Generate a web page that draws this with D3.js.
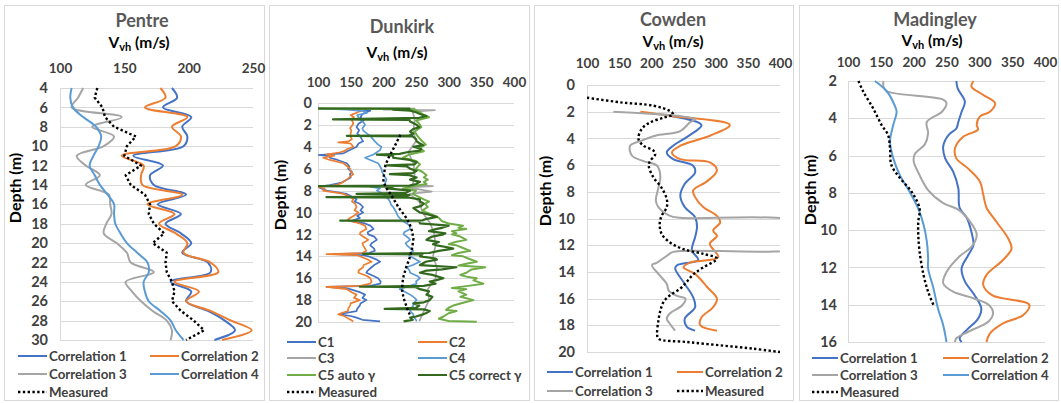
<!DOCTYPE html>
<html>
<head>
<meta charset="utf-8">
<script src="https://cdn.jsdelivr.net/npm/d3@7"></script>
<style>
  body { margin: 0; background: #fff; }
  text { font-family: Lato, "Open Sans", sans-serif; font-weight: bold; }
</style>
</head>
<body>
<svg id="chart" width="1061" height="403"></svg>
<script>
// ---------- data ----------
// Pentre
const pentreDepth = [4,5,6,7,8,9,10,11,12,13,14,15,16,17,18,19,20,21,22,23,24,25,26,27,28,29,30];
const pentreC1 = [187,191,180,202,195,199,196,157,180,170,173,198,176,194,182,194,202,195,215,217,186,202,198,215,228,236,220];
const pentreC2 = [178,182,166,199,187,194,190,148,165,163,164,195,168,189,177,190,199,196,217,223,189,208,198,217,233,249,226];
const pentreC3 = [118,114,109,148,125,142,134,113,120,131,120,138,139,140,136,134,144,152,155,173,151,156,163,172,183,187,186];
const pentreC4 = [109,108,110,118,128,132,130,126,123,127,131,137,142,142,143,147,152,160,168,169,165,166,169,178,186,190,196];
const pentreMeas = [129,127,133,135,142,159,152,150,163,151,155,166,170,169,173,181,172,183,182,183,187,189,187,194,204,212,198];
const pentreXTicks = [100,150,200,250];
const pentreYTicks = [4,6,8,10,12,14,16,18,20,22,24,26,28,30];

// Dunkirk  [depth, Vvh]
const dunkirkC1 = [[0.5,100],[0.55,154],[0.7,180],[0.85,174],[1.0,168],[1.3,165],[1.6,170],[1.9,162],[2.2,159],[2.5,163],[2.8,160],[3.0,164],[3.3,167],[3.5,169],[3.7,162],[4.0,159],[4.2,152],[4.4,145],[4.6,139],[4.75,100],[4.85,118],[5.0,118],[5.2,130],[5.5,144],[5.8,148],[6.0,146],[6.3,152],[6.5,149],[6.8,150],[7.0,144],[7.3,135],[7.5,118],[7.65,100],[7.8,105],[8.0,113],[8.3,144],[8.5,150],[8.8,159],[9.0,156],[9.2,164],[9.5,169],[9.8,165],[10.0,169],[10.3,160],[10.5,164],[10.7,155],[10.8,150],[11.0,172],[11.2,180],[11.5,185],[11.8,176],[12.0,177],[12.2,186],[12.5,190],[12.8,182],[13.0,180],[13.3,186],[13.5,187],[13.7,178],[13.8,125],[13.9,170],[14.0,177],[14.3,190],[14.5,195],[14.8,186],[15.0,182],[15.3,176],[15.5,174],[15.8,185],[16.0,192],[16.3,196],[16.5,195],[16.7,180],[16.8,113],[16.9,140],[17.0,149],[17.3,165],[17.5,172],[17.8,168],[18.0,174],[18.3,165],[18.5,164],[18.8,160],[19.0,159],[19.2,140],[19.3,134],[19.45,150],[19.6,159],[19.8,168],[19.95,195]];
const dunkirkC2 = [[0.5,100],[0.55,164],[0.7,166],[0.9,159],[1.1,150],[1.3,155],[1.5,151],[1.8,154],[2.0,153],[2.3,149],[2.5,151],[2.8,150],[3.0,149],[3.3,152],[3.5,147],[3.6,131],[3.7,150],[4.0,154],[4.2,145],[4.4,140],[4.5,134],[4.7,113],[4.8,125],[5.0,108],[5.2,118],[5.5,139],[5.8,145],[6.0,149],[6.3,150],[6.5,154],[6.8,148],[7.0,144],[7.3,136],[7.5,128],[7.65,100],[7.8,110],[8.0,108],[8.2,130],[8.3,139],[8.6,150],[8.8,154],[9.0,152],[9.2,157],[9.5,159],[9.8,156],[10.0,162],[10.3,155],[10.5,149],[10.7,145],[11.0,164],[11.2,172],[11.5,174],[11.8,165],[12.0,164],[12.3,172],[12.5,177],[12.8,168],[13.0,169],[13.3,172],[13.5,174],[13.7,168],[13.8,113],[13.9,160],[14.0,164],[14.3,176],[14.5,182],[14.8,170],[15.0,169],[15.3,162],[15.5,162],[15.8,175],[16.0,180],[16.3,182],[16.5,180],[16.7,165],[16.8,113],[16.9,130],[17.0,144],[17.3,152],[17.5,159],[17.8,155],[18.0,164],[18.3,150],[18.5,149],[18.8,146],[19.0,146],[19.2,135],[19.3,131],[19.45,140],[19.6,144],[19.8,150],[19.95,154]];
const dunkirkC3 = [[0.5,100],[0.52,248],[0.6,200],[0.65,279],[0.8,245],[1.5,248],[2.5,246],[3.5,250],[4.5,238],[5.5,246],[6.5,248],[7.5,245],[7.6,276],[7.7,238],[8.1,274],[8.3,240],[9.0,255],[10.0,260],[11.0,272],[12.0,278],[13.0,280],[14.0,276],[15.0,282],[16.0,280],[17.0,268],[18.0,270],[19.0,262],[19.95,255]];
const dunkirkC4 = [[0.5,100],[0.6,144],[0.75,170],[0.9,175],[1.1,160],[1.3,162],[1.5,164],[1.8,170],[2.0,172],[2.3,168],[2.5,169],[2.8,175],[3.0,180],[3.3,184],[3.5,187],[3.8,192],[4.0,197],[4.3,195],[4.5,190],[4.7,185],[5.0,172],[5.2,180],[5.5,192],[5.8,195],[6.0,197],[6.3,198],[6.5,200],[6.8,203],[7.0,205],[7.3,203],[7.5,203],[7.65,180],[7.8,195],[8.0,190],[8.3,200],[8.5,203],[8.8,208],[9.0,210],[9.3,212],[9.5,215],[9.8,218],[10.0,220],[10.3,222],[10.5,225],[10.7,228],[11.0,236],[11.2,240],[11.5,241],[11.8,232],[12.0,231],[12.3,238],[12.5,241],[12.8,234],[13.0,236],[13.3,242],[13.5,246],[13.8,238],[14.0,241],[14.3,250],[14.5,256],[14.8,245],[15.0,236],[15.3,240],[15.5,241],[15.8,252],[16.0,256],[16.3,250],[16.5,251],[16.8,235],[17.0,225],[17.3,235],[17.5,241],[17.8,248],[18.0,251],[18.3,246],[18.5,246],[18.8,242],[19.0,241],[19.3,246],[19.5,246],[19.8,250],[19.95,251]];
const dunkirkC5auto = [[0.5,100],[0.55,245],[0.8,255],[1.1,262],[1.3,270],[1.6,250],[1.9,255],[2.2,258],[2.6,248],[3.0,252],[3.4,258],[3.8,265],[4.1,255],[4.4,262],[4.7,240],[5.0,230],[5.3,250],[5.6,256],[6.0,250],[6.3,260],[6.6,266],[6.8,262],[7.0,268],[7.2,262],[7.4,266],[7.6,245],[7.8,230],[8.0,250],[8.3,245],[8.6,255],[8.8,262],[9.0,270],[9.2,264],[9.5,268],[9.8,260],[10.0,266],[10.2,275],[10.5,285],[10.8,290],[11.0,300],[11.2,322],[11.4,315],[11.5,327],[11.7,305],[11.9,312],[12.0,305],[12.2,318],[12.5,327],[12.7,310],[12.9,300],[13.0,312],[13.2,320],[13.5,333],[13.7,315],[13.9,305],[14.0,322],[14.2,330],[14.5,343],[14.7,325],[14.85,315],[15.0,356],[15.2,335],[15.5,327],[15.7,318],[15.9,330],[16.0,343],[16.2,338],[16.5,353],[16.7,330],[16.9,305],[17.0,327],[17.2,315],[17.5,327],[17.7,318],[18.0,338],[18.2,325],[18.5,307],[18.7,300],[18.9,296],[19.0,312],[19.2,300],[19.5,292],[19.7,285],[19.9,300],[19.97,343]];
const dunkirkC5correct = [[0.5,100],[0.52,240],[0.6,215],[0.7,241],[0.85,250],[1.0,256],[1.2,266],[1.35,255],[1.5,123],[1.55,240],[1.7,241],[1.9,248],[2.0,251],[2.2,255],[2.4,245],[2.6,241],[2.8,246],[2.95,240],[3.0,144],[3.05,245],[3.3,250],[3.5,251],[3.7,256],[3.85,261],[4.0,246],[4.2,258],[4.35,256],[4.5,236],[4.65,225],[4.72,190],[4.8,215],[5.0,215],[5.2,240],[5.4,251],[5.6,248],[5.7,205],[5.8,236],[6.0,241],[6.2,251],[6.4,245],[6.5,210],[6.6,240],[6.8,251],[7.0,241],[7.2,256],[7.4,250],[7.55,240],[7.6,100],[7.65,215],[7.8,205],[8.0,241],[8.2,235],[8.3,159],[8.4,240],[8.55,230],[8.6,113],[8.65,240],[8.8,256],[9.0,256],[9.2,262],[9.4,258],[9.6,246],[9.8,251],[10.0,256],[10.2,270],[10.4,282],[10.6,265],[10.72,260],[10.75,134],[10.8,255],[11.0,256],[11.2,300],[11.4,290],[11.5,282],[11.7,270],[11.9,295],[12.0,292],[12.2,275],[12.4,268],[12.5,266],[12.7,285],[12.9,276],[13.0,282],[13.2,300],[13.3,307],[13.5,285],[13.7,270],[13.78,169],[13.82,260],[14.0,256],[14.2,280],[14.3,282],[14.5,265],[14.8,256],[15.0,312],[15.2,290],[15.3,266],[15.5,256],[15.7,275],[16.0,292],[16.2,280],[16.3,271],[16.5,280],[16.7,262],[16.78,164],[16.82,250],[17.0,256],[17.2,270],[17.5,266],[17.7,275],[18.0,271],[18.2,262],[18.3,246],[18.5,255],[18.7,250],[18.8,202],[18.85,262],[19.0,271],[19.2,265],[19.3,261],[19.5,250],[19.6,241],[19.8,245],[19.95,231]];
const dunkirkMeas = [[2.9,226],[4.0,217],[5.0,208],[5.7,203],[6.5,201],[7.2,200],[7.8,205],[8.4,212],[9.0,218],[9.6,224],[10.3,233],[11.0,240],[11.7,244],[12.4,246],[13.3,244],[14.2,240],[15.0,235],[15.8,231],[16.5,229],[17.2,229],[17.8,231],[18.5,235],[19.0,238],[19.4,241]];
const dunkirkXTicks = [100,150,200,250,300,350,400];
const dunkirkYTicks = [0,2,4,6,8,10,12,14,16,18,20];

// Cowden  [depth, Vvh]
const cowdenC1 = [[2.3,229],[3.0,278],[3.9,255],[4.55,234],[5.05,224],[5.55,234],[6.05,265],[6.55,268],[7.4,252],[8.3,245],[9.15,252],[9.9,268],[10.65,271],[11.4,268],[12.4,263],[13.1,273],[13.5,240],[13.75,237],[14.9,252],[15.9,265],[16.65,268],[17.5,252],[18.1,255],[18.4,268]];
const cowdenC2 = [[2.0,183],[2.3,229],[3.0,322],[3.8,291],[4.55,245],[5.05,232],[5.55,245],[5.8,291],[6.4,302],[7.2,287],[7.9,265],[8.4,268],[9.15,281],[9.8,302],[10.3,307],[10.9,296],[11.3,302],[11.9,291],[12.9,304],[13.3,260],[13.65,250],[14.15,268],[15.15,287],[16.0,302],[16.65,296],[17.4,278],[18.0,276],[18.4,302]];
const cowdenC3 = [[2.0,141],[2.55,268],[2.8,260],[3.45,245],[3.8,206],[4.2,183],[4.55,167],[5.3,170],[5.7,188],[6.05,209],[6.9,214],[7.7,211],[8.65,207],[9.15,211],[9.8,229],[9.95,245],[10.45,440],[12.0,440],[12.5,234],[12.8,224],[13.3,209],[13.5,201],[14.15,211],[14.9,224],[15.4,227],[15.8,240],[16.0,253],[16.5,248],[17.1,229],[17.5,224],[17.9,229],[18.4,237]];
const cowdenMeas = [[0.95,100],[1.3,152],[1.55,203],[1.95,229],[2.2,234],[2.45,219],[2.8,198],[3.3,185],[4.05,180],[4.55,188],[4.9,203],[5.2,206],[5.7,198],[6.05,196],[6.9,203],[7.7,216],[8.55,224],[9.15,224],[9.8,216],[10.4,213],[11.15,216],[11.8,229],[12.3,250],[12.65,281],[13.0,302],[13.65,281],[14.15,266],[14.75,255],[15.25,245],[15.75,229],[16.25,219],[16.9,214],[17.65,211],[18.65,209],[19.0,211],[19.25,255],[19.5,307],[19.75,358],[20.0,400]];
const cowdenXTicks = [100,150,200,250,300,350,400];
const cowdenYTicks = [0,2,4,6,8,10,12,14,16,18,20];

// Madingley  [depth, Vvh]
const madingleyC1 = [[2,265],[2.4,267],[3.1,278],[3.65,273],[4.2,268],[4.55,265],[4.9,253],[5.5,245],[6.15,248],[6.85,260],[7.75,268],[8.8,270],[9.35,281],[10.1,288],[10.8,291],[11.35,283],[12.05,273],[12.75,278],[13.5,293],[14.2,303],[14.75,298],[15.35,281],[15.8,270],[16,273]];
const madingleyC2 = [[2,291],[2.3,288],[2.75,306],[3.2,324],[3.65,316],[3.9,301],[4.35,296],[4.6,298],[5.0,275],[5.6,263],[6.15,265],[6.7,283],[7.4,301],[8.1,306],[8.8,311],[9.55,326],[10.45,344],[11.0,349],[11.6,336],[12.4,311],[12.95,306],[13.5,320],[14.0,376],[14.55,367],[15.0,336],[15.55,316],[16,311]];
const madingleyC3 = [[2,154],[2.3,154],[2.55,159],[3.0,245],[3.2,250],[3.65,243],[4.2,220],[4.8,222],[5.4,217],[5.9,202],[6.3,200],[7.05,209],[7.85,222],[8.55,245],[8.9,268],[9.65,288],[10.25,296],[10.9,288],[11.4,270],[12.25,250],[12.85,245],[13.3,260],[13.65,291],[14.0,314],[14.45,321],[14.9,314],[15.45,283],[15.8,265],[16,263]];
const madingleyC4 = [[2,141],[2.55,159],[3.3,171],[3.65,174],[4.35,169],[5.25,164],[6.15,169],[7.05,179],[7.95,194],[8.85,207],[9.7,215],[10.6,220],[11.5,222],[12.05,222],[13.1,230],[14.2,237],[15.1,245],[16,250]];
const madingleyMeas = [[2,116],[2.55,123],[3.45,138],[4.35,151],[4.9,161],[5.6,164],[6.5,166],[7.2,179],[7.95,197],[8.85,209],[9.55,207],[10.25,207],[11.15,209],[12.4,215],[13.3,222],[14.0,230]];
const madingleyXTicks = [100,150,200,250,300,350,400];
const madingleyYTicks = [2,4,6,8,10,12,14,16];

// ---------- styles ----------
const C_BLUE = "#4472C4", C_ORANGE = "#ED7D31", C_GRAY = "#A5A5A5", C_LBLUE = "#5B9BD5";
const C_GREEN = "#70AD47", C_DGREEN = "#33691E";

const svg = d3.select("#chart");
const smooth = d3.curveCatmullRom.alpha(0.5);

const pairs = (depths, vals) => depths.map((d, i) => [d, vals[i]]);

const panels = [
  {
    id: "pentre", title: "Pentre", frame: [4, 5, 264, 400],
    left: 60, right: 253, top: 88, bottom: 340, xDomain: [100, 250], yDomain: [4, 30],
    xTicks: pentreXTicks, yTicks: pentreYTicks, yLabelGap: 12,
    titleY: 21, unitY: 43, tickY: 68, titleX: 142, unitX: 139, depthX: 15, depthY: 188,
    legend: { x1: 18, x2: 150, len: 29, rows: [356, 374, 392] },
    series: [
      { name: "Correlation 1", color: C_BLUE, data: pairs(pentreDepth, pentreC1) },
      { name: "Correlation 2", color: C_ORANGE, data: pairs(pentreDepth, pentreC2) },
      { name: "Correlation 3", color: C_GRAY, data: pairs(pentreDepth, pentreC3) },
      { name: "Correlation 4", color: C_LBLUE, data: pairs(pentreDepth, pentreC4) },
      { name: "Measured", color: "#000", data: pairs(pentreDepth, pentreMeas), dotted: true, linear: true }
    ]
  },
  {
    id: "dunkirk", title: "Dunkirk", frame: [269, 5, 529, 400],
    left: 318, right: 514, top: 103, bottom: 322, xDomain: [100, 400], yDomain: [0, 20],
    xTicks: dunkirkXTicks, yTicks: dunkirkYTicks, yLabelGap: 6,
    titleY: 27, unitY: 53, tickY: 82, titleX: 402, unitX: 397, depthX: 280, depthY: 195,
    legend: { x1: 287, x2: 418, len: 29, rows: [342, 358, 375, 392] },
    series: [
      { name: "C1", color: C_BLUE, data: dunkirkC1, linear: true, width: 1.7 },
      { name: "C2", color: C_ORANGE, data: dunkirkC2, linear: true, width: 1.7 },
      { name: "C3", color: C_GRAY, data: dunkirkC3, linear: true, width: 1.7 },
      { name: "C4", color: C_LBLUE, data: dunkirkC4, linear: true, width: 1.7 },
      { name: "C5 auto γ", color: C_GREEN, data: dunkirkC5auto, linear: true, width: 2 },
      { name: "C5 correct γ", color: C_DGREEN, data: dunkirkC5correct, linear: true, width: 2.2 },
      { name: "Measured", color: "#000", data: dunkirkMeas, dotted: true, linear: true }
    ]
  },
  {
    id: "cowden", title: "Cowden", frame: [534, 5, 793, 400],
    left: 587, right: 780, top: 85, bottom: 352, xDomain: [100, 400], yDomain: [0, 20],
    xTicks: cowdenXTicks, yTicks: cowdenYTicks, yLabelGap: 12,
    titleY: 20, unitY: 42, tickY: 63, titleX: 673, unitX: 673, depthX: 545, depthY: 191,
    legend: { x1: 547, x2: 677, len: 26, rows: [372, 391] },
    series: [
      { name: "Correlation 1", color: C_BLUE, data: cowdenC1 },
      { name: "Correlation 2", color: C_ORANGE, data: cowdenC2 },
      { name: "Correlation 3", color: C_GRAY, data: cowdenC3 },
      { name: "Measured", color: "#000", data: cowdenMeas, dotted: true }
    ]
  },
  {
    id: "madingley", title: "Madingley", frame: [799, 5, 1058, 400],
    left: 848, right: 1045, top: 81, bottom: 342, xDomain: [100, 400], yDomain: [2, 16],
    xTicks: madingleyXTicks, yTicks: madingleyYTicks, yLabelGap: 11,
    titleY: 20, unitY: 41, tickY: 62, titleX: 935, unitX: 932, depthX: 810, depthY: 190,
    legend: { x1: 812, x2: 943, len: 26, rows: [358, 375, 392] },
    series: [
      { name: "Correlation 1", color: C_BLUE, data: madingleyC1 },
      { name: "Correlation 2", color: C_ORANGE, data: madingleyC2 },
      { name: "Correlation 3", color: C_GRAY, data: madingleyC3 },
      { name: "Correlation 4", color: C_LBLUE, data: madingleyC4 },
      { name: "Measured", color: "#000", data: madingleyMeas, dotted: true }
    ]
  }
];

function drawPanel(p) {
  const g = svg.append("g").attr("class", p.id);

  // panel frame
  g.append("rect")
    .attr("x", p.frame[0] + 0.5).attr("y", p.frame[1] + 0.5)
    .attr("width", p.frame[2] - p.frame[0]).attr("height", p.frame[3] - p.frame[1])
    .attr("fill", "none").attr("stroke", "#d9d9d9");

  const x = d3.scaleLinear().domain(p.xDomain).range([p.left, p.right]);
  const y = d3.scaleLinear().domain(p.yDomain).range([p.top, p.bottom]);

  // depth axis with horizontal grid
  const yAxis = g.append("g")
    .attr("transform", `translate(${p.left},0)`)
    .call(d3.axisLeft(y).tickValues(p.yTicks).tickSize(-(p.right - p.left))
      .tickSizeOuter(0).tickPadding(p.yLabelGap));
  yAxis.selectAll(".tick line").attr("stroke", "#d9d9d9").attr("shape-rendering", "crispEdges");
  yAxis.select(".domain").attr("stroke", "#d9d9d9").attr("shape-rendering", "crispEdges");
  yAxis.selectAll("text").attr("fill", "#404040").style("font-size", "14.5px");

  // velocity labels at top
  const xAxis = g.append("g")
    .attr("transform", `translate(0,${p.tickY})`)
    .call(d3.axisTop(x).tickValues(p.xTicks).tickSize(0).tickPadding(0));
  xAxis.select(".domain").remove();
  xAxis.selectAll("text").attr("y", 0).attr("dy", "0.35em")
    .attr("fill", "#404040").style("font-size", "13.5px");

  // series
  const clipId = "clip-" + p.id;
  g.append("clipPath").attr("id", clipId).append("rect")
    .attr("x", p.left).attr("y", p.top - 2)
    .attr("width", p.right - p.left).attr("height", p.bottom - p.top + 4);

  const plot = g.append("g").attr("clip-path", `url(#${clipId})`);
  p.series.forEach(s => {
    const line = d3.line()
      .x(d => x(d[1]))
      .y(d => y(d[0]))
      .curve(s.linear ? d3.curveLinear : smooth);
    plot.append("path")
      .datum(s.data)
      .attr("fill", "none")
      .attr("stroke", s.color)
      .attr("stroke-width", s.dotted ? 2.4 : (s.width || 2))
      .attr("stroke-dasharray", s.dotted ? "2.4,2.4" : null)
      .attr("stroke-linejoin", "round")
      .attr("d", line);
  });

  // titles
  g.append("text").attr("x", p.titleX).attr("y", p.titleY).attr("dy", "0.35em")
    .attr("text-anchor", "middle").attr("fill", "#595959").style("font-size", "18px")
    .text(p.title);

  const unit = g.append("text").attr("x", p.unitX).attr("y", p.unitY).attr("dy", "0.3em")
    .attr("text-anchor", "middle").attr("fill", "#000").style("font-size", "15.5px");
  unit.append("tspan").text("V");
  unit.append("tspan").attr("dy", 3).style("font-size", "11px").text("vh");
  unit.append("tspan").attr("dy", -3).text(" (m/s)");

  g.append("text")
    .attr("transform", `translate(${p.depthX},${p.depthY}) rotate(-90)`)
    .attr("text-anchor", "middle").attr("dy", "0.35em")
    .attr("fill", "#000").style("font-size", "16px")
    .text("Depth (m)");

  // legend
  const leg = g.append("g");
  p.series.forEach((s, i) => {
    const lx = i % 2 === 0 ? p.legend.x1 : p.legend.x2;
    const ly = p.legend.rows[Math.floor(i / 2)];
    leg.append("line")
      .attr("x1", lx).attr("x2", lx + p.legend.len)
      .attr("y1", ly).attr("y2", ly)
      .attr("stroke", s.color)
      .attr("stroke-width", s.dotted ? 2.4 : 2)
      .attr("stroke-dasharray", s.dotted ? "2.4,2.4" : null);
    leg.append("text")
      .attr("x", lx + p.legend.len + 2).attr("y", ly).attr("dy", "0.35em")
      .attr("fill", "#404040").style("font-size", "13.3px")
      .text(s.name);
  });
}

panels.forEach(drawPanel);
</script>
</body>
</html>
